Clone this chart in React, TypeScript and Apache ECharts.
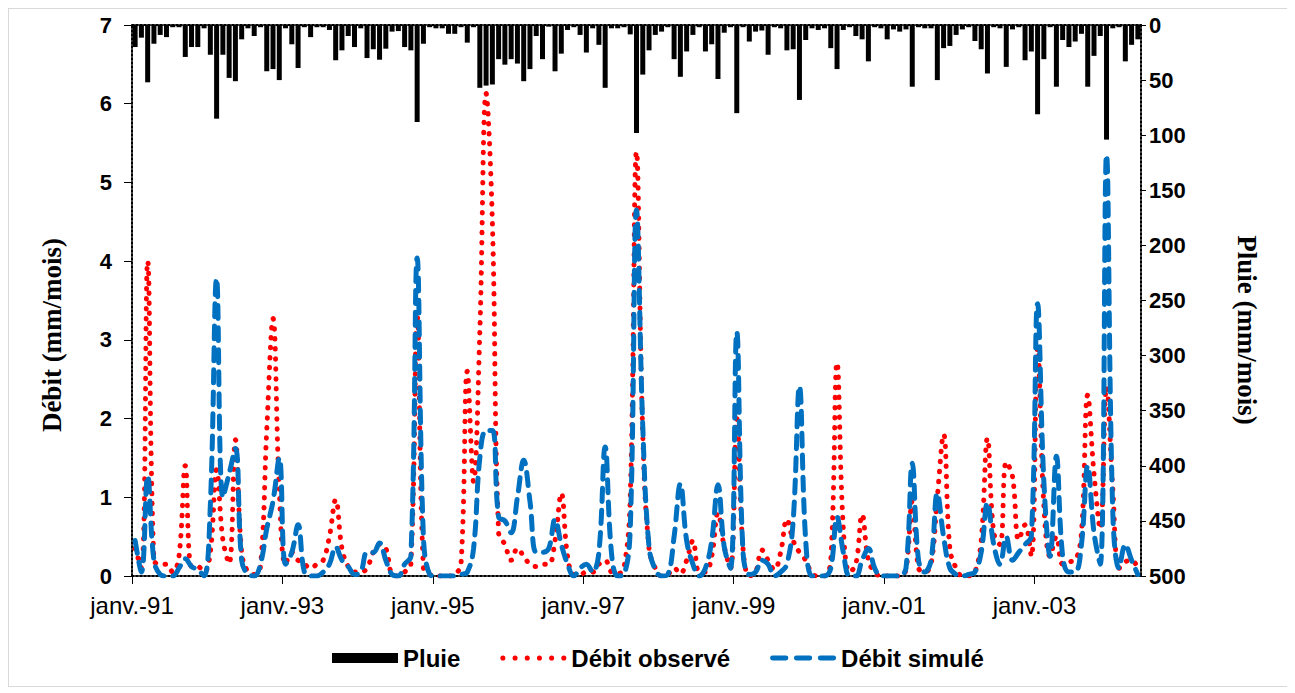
import React, { useEffect, useRef } from 'react';
import * as echarts from 'echarts';

const startYear = 1991;
const xTickLabels = ['janv.-91', 'janv.-93', 'janv.-95', 'janv.-97', 'janv.-99', 'janv.-01', 'janv.-03'];
const leftTitle = 'Débit (mm/mois)';
const rightTitle = 'Pluie (mm/mois)';

// Pluie (mm/mois), one value per month from janv. 1991
const rain = [
  20, 11.5, 52, 17, 9, 11, 2, 2, 29, 20, 20, 3,
  27, 85, 27, 48, 51, 13, 3, 10, 2, 42, 40, 50,
  3, 17.5, 39, 2, 11, 2, 2, 4.5, 32, 23, 10, 20,
  3, 30, 22, 31.5, 21.5, 6, 5.5, 20, 23, 88, 17, 2,
  3, 3, 8, 8, 2, 16, 2, 57, 55, 54, 31, 36,
  31, 35, 51, 40, 10, 31, 1.5, 42, 26, 4.5, 2, 9,
  25, 3, 18, 57, 3, 3, 2, 8.5, 98, 45, 23, 9,
  6, 2, 31, 47, 24, 9, 2, 24, 17.5, 49, 7, 2,
  80, 2, 15, 6, 5, 27, 2, 3, 23, 22, 68, 13.6,
  3, 4.5, 3, 21, 40, 4.5, 2, 10, 13, 33, 2, 3,
  13, 4, 6, 4, 56, 2, 3, 3, 50, 21, 19, 9,
  4, 2, 14.5, 22, 44, 2, 3, 38, 4, 2, 32, 24,
  81, 31, 2, 56, 13.6, 20, 15, 8, 56, 28, 10, 104,
  3, 2, 33, 18, 13,
];

// Débit observé (mm/mois)
const observed = [
  0.35, 0.1, 4.0, 0.2, 0.15, 0.15, 0.05, 0.25, 1.4, 0.12, 0.12, 0.05,
  0.3, 1.35, 0.46, 0.16, 1.73, 0.3, 0.05, 0.02, 0.12, 1.85, 3.27, 1.1,
  0.15, 0.3, 0.2, 0.15, 0.1, 0.15, 0.2, 0.5, 0.97, 0.35, 0.12, 0.05,
  0.05, 0.1, 0.3, 0.4, 0.35, 0.02, 0.0, 0.05, 0.15, 3.3, 0.1, 0.02,
  0.0, 0.0, 0.0, 0.02, 0.15, 2.6, 1.2, 3.1, 6.13, 4.5, 0.55, 0.4,
  0.2, 0.35, 0.25, 0.15, 0.12, 0.15, 0.15, 0.45, 1.05, 0.25, 0.02, 0.02,
  0.05, 0.05, 0.15, 0.2, 0.05, 0.03, 0.1, 1.0, 5.39, 1.8, 0.35, 0.1,
  0.0, 0.02, 0.1, 0.03, 0.2, 0.45, 0.05, 0.05, 0.25, 0.8, 0.37, 0.1,
  2.0, 0.35, 0.0, 0.05, 0.33, 0.2, 0.08, 0.3, 0.72, 0.45, 0.3, 0.2,
  0.03, 0.0, 0.0, 0.2, 2.71, 0.6, 0.05, 0.15, 0.78, 0.2, 0.05, 0.0,
  0.0, 0.0, 0.0, 0.08, 0.95, 0.1, 0.05, 0.15, 1.0, 1.8, 0.35, 0.1,
  0.0, 0.0, 0.05, 0.45, 1.75, 0.55, 0.4, 1.45, 1.26, 0.46, 0.65, 0.25,
  2.9, 0.9, 0.25, 0.5, 0.15, 0.18, 0.2, 0.55, 2.3, 1.3, 0.6, 2.4,
  1.1, 0.1, 0.18, 0.2, 0.1,
];

// Débit simulé (mm/mois)
const simulated = [
  0.45, 0.05, 1.27, 0.2, 0.02, 0.0, 0.0, 0.1, 0.22, 0.12, 0.08, 0.0,
  0.9, 3.78, 1.0, 1.3, 1.62, 0.2, 0.02, 0.0, 0.15, 0.6, 0.95, 1.5,
  0.15, 0.3, 0.65, 0.05, 0.0, 0.0, 0.05, 0.15, 0.37, 0.2, 0.12, 0.02,
  0.05, 0.3, 0.3, 0.42, 0.2, 0.02, 0.0, 0.15, 0.25, 4.04, 0.5, 0.02,
  0.0, 0.0, 0.0, 0.0, 0.02, 0.05, 0.35, 1.5, 1.85, 1.85, 0.75, 0.7,
  0.55, 1.0, 1.47, 0.95, 0.3, 0.3, 0.35, 0.72, 0.4, 0.15, 0.0, 0.1,
  0.15, 0.05, 0.3, 1.64, 0.3, 0.0, 0.02, 0.6, 4.65, 1.9, 0.37, 0.08,
  0.0, 0.02, 0.5, 1.17, 0.45, 0.15, 0.0, 0.1, 0.45, 1.16, 0.37, 0.1,
  3.1, 0.3, 0.02, 0.05, 0.2, 0.15, 0.0, 0.05, 0.15, 0.7, 2.41, 0.45,
  0.0, 0.0, 0.0, 0.1, 0.75, 0.3, 0.0, 0.0, 0.2, 0.35, 0.1, 0.0,
  0.0, 0.0, 0.0, 0.1, 1.43, 0.2, 0.05, 0.2, 1.05, 0.5, 0.1, 0.02,
  0.0, 0.02, 0.05, 0.3, 0.93, 0.4, 0.15, 0.5, 0.2, 0.3, 0.4, 0.5,
  3.46, 1.2, 0.25, 1.52, 0.25, 0.05, 0.05, 0.4, 1.4, 0.55, 0.15, 5.35,
  0.8, 0.1, 0.4, 0.2, 0.02,
];

const SANS = '"Liberation Sans", Arial, sans-serif';
const SERIF = '"Liberation Serif", "Times New Roman", serif';

// legend icon shapes (style only)
function dotsPath(n: number, r: number, step: number) {
  let d = '';
  for (let k = 0; k < n; k++) {
    const cx = r + step * k;
    d += `M${cx - r} ${r}a${r} ${r} 0 1 0 ${2 * r} 0a${r} ${r} 0 1 0 ${-2 * r} 0Z`;
  }
  return 'path://' + d;
}
function dashesPath(n: number, len: number, gap: number, h: number) {
  let d = '';
  const r = h / 2;
  for (let k = 0; k < n; k++) {
    const x = k * (len + gap);
    d += `M${x + r} 0h${len - 2 * r}a${r} ${r} 0 0 1 0 ${h}h${-(len - 2 * r)}a${r} ${r} 0 0 1 0 ${-h}Z`;
  }
  return 'path://' + d;
}

export default function App() {
  const ref = useRef<HTMLDivElement>(null);

  useEffect(() => {
    if (!ref.current) return;
    const chart = echarts.init(ref.current, null, { renderer: 'svg' });

    const months = rain.map((_, i) => {
      const y = startYear + Math.floor(i / 12);
      const m = (i % 12) + 1;
      return `${y}-${String(m).padStart(2, '0')}`;
    });
    const boundaries = Array.from({ length: months.length + 1 }, (_, k) =>
      k % 24 === 0 ? xTickLabels[k / 24] ?? '' : ''
    );

    const dotted = { color: '#000', width: 2, type: [2, 2] as any };
    const tickLine = { color: '#000', width: 1, type: 'solid' as any };

    chart.setOption({
      animation: false,
      backgroundColor: '#fff',
      grid: { left: 123, top: 16, width: 1009, height: 551, containLabel: false },
      legend: {
        left: 318,
        top: 632,
        itemWidth: 66,
        itemHeight: 10,
        itemGap: 40,
        symbolKeepAspect: true,
        textStyle: { fontFamily: SANS, fontSize: 24, fontWeight: 'bold', color: '#000' },
        data: [
          { name: 'Pluie', icon: 'rect' },
          { name: 'Débit observé', icon: dotsPath(6, 2.4, 11.5) },
          { name: 'Débit simulé', icon: dashesPath(3, 18, 5.5, 4.8) },
        ],
      },
      xAxis: [
        {
          type: 'category',
          data: months,
          boundaryGap: true,
          position: 'bottom',
          show: false,
        },
        {
          type: 'category',
          data: boundaries,
          boundaryGap: false,
          position: 'bottom',
          axisLine: { show: true, onZero: false, lineStyle: dotted },
          axisTick: {
            show: true,
            length: 8,
            interval: (i: number) => i % 24 === 0,
            lineStyle: tickLine,
          },
          axisLabel: {
            interval: (i: number) => i % 24 === 0,
            margin: 17,
            fontFamily: SANS,
            fontSize: 24,
            color: '#000',
          },
          splitLine: { show: false },
        },
        {
          type: 'category',
          data: boundaries,
          boundaryGap: false,
          position: 'top',
          axisLine: { show: true, onZero: false, lineStyle: dotted },
          axisTick: { show: false },
          axisLabel: { show: false },
          splitLine: { show: false },
        },
      ],
      yAxis: [
        {
          type: 'value',
          min: 0,
          max: 7,
          interval: 1,
          position: 'left',
          axisLine: { show: true, onZero: false, lineStyle: dotted },
          axisTick: { show: true, length: 8, lineStyle: tickLine },
          axisLabel: { margin: 20, fontFamily: SANS, fontSize: 22, fontWeight: 'bold', color: '#000' },
          splitLine: { show: false },
        },
        {
          type: 'value',
          min: 0,
          max: 500,
          interval: 50,
          inverse: true,
          position: 'right',
          axisLine: { show: true, onZero: false, lineStyle: dotted },
          axisTick: { show: true, length: 5, lineStyle: tickLine },
          axisLabel: { margin: 8, fontFamily: SANS, fontSize: 22, fontWeight: 'bold', color: '#000' },
          splitLine: { show: false },
        },
      ],
      series: [
        {
          name: 'Pluie',
          type: 'bar',
          xAxisIndex: 0,
          yAxisIndex: 1,
          data: rain,
          barWidth: 5,
          itemStyle: { color: '#000' },
        },
        {
          name: 'Débit observé',
          type: 'line',
          xAxisIndex: 0,
          yAxisIndex: 0,
          data: observed,
          symbol: 'none',
          smooth: 0.4,
          lineStyle: { color: '#FF0000', width: 5, type: [0.5, 9.5], cap: 'round' },
          itemStyle: { color: '#FF0000' },
        },
        {
          name: 'Débit simulé',
          type: 'line',
          xAxisIndex: 0,
          yAxisIndex: 0,
          data: simulated,
          symbol: 'none',
          smooth: 0.4,
          lineStyle: { color: '#0070C0', width: 5, type: [13, 9], cap: 'round' },
          itemStyle: { color: '#0070C0' },
        },
      ],
      graphic: [
        {
          type: 'text',
          x: 43,
          y: 326,
          rotation: Math.PI / 2,
          style: {
            text: leftTitle,
            fontFamily: SERIF,
            fontSize: 27,
            fontWeight: 'bold',
            fill: '#000',
            align: 'center',
            verticalAlign: 'middle',
          },
        },
        {
          type: 'text',
          x: 1238,
          y: 321,
          rotation: -Math.PI / 2,
          style: {
            text: rightTitle,
            fontFamily: SERIF,
            fontSize: 27,
            fontWeight: 'bold',
            fill: '#000',
            align: 'center',
            verticalAlign: 'middle',
          },
        },
      ],
    });

    return () => chart.dispose();
  }, []);

  return (
    <div
      ref={ref}
      style={{ width: 1279, height: 677, border: '1px solid #d9d9d9', background: '#fff' }}
    />
  );
}
